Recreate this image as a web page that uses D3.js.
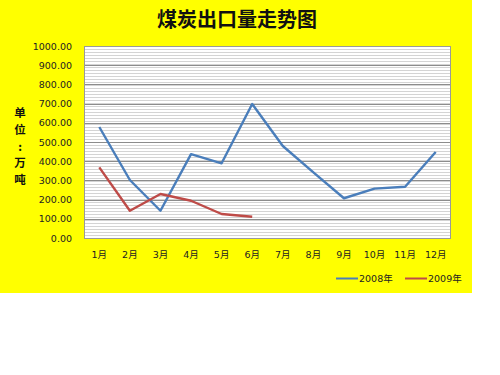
<!DOCTYPE html>
<html><head><meta charset="utf-8">
<script src="https://cdn.jsdelivr.net/npm/d3@7/dist/d3.min.js"></script>
<style>body{margin:0;background:#fff}svg{display:block}</style>
</head><body>
<svg id="c" width="500" height="375"></svg>
<script>
const months = ["1月","2月","3月","4月","5月","6月","7月","8月","9月","10月","11月","12月"];
const values2008 = [578, 302, 142, 437, 389, 698, 479, 342, 207, 257, 267, 448];
const values2009 = [368, 142, 229, 194, 125, 111];
const seriesNames = ["2008年","2009年"];
const yTicks = [0,100,200,300,400,500,600,700,800,900,1000];
const colors = ["#4A7EBB","#BE4B48"];

const svg = d3.select("#c");
svg.append("rect").attr("x",0).attr("y",0).attr("width",472).attr("height",293).attr("fill","#ffff00");

const L=84,R=451,T=46,B=238;
const x = d3.scaleBand().domain(months).range([L,R]);
const y = d3.scaleLinear().domain([0,1000]).range([B,T]);

const defs = svg.append("defs");
const pat = defs.append("pattern").attr("id","stripes").attr("patternUnits","userSpaceOnUse")
  .attr("width",4).attr("height",3);
pat.append("rect").attr("width",4).attr("height",3).attr("fill","#ffffff");
pat.append("rect").attr("y",1).attr("width",4).attr("height",1).attr("fill","#d4d4d4");

svg.append("rect").attr("x",L).attr("y",T).attr("width",R-L).attr("height",B-T).attr("fill","url(#stripes)");

// major gridlines
svg.append("g").selectAll("line").data(yTicks).join("line")
  .attr("x1",L).attr("x2",R).attr("y1",d=>Math.round(y(d))+0.5).attr("y2",d=>Math.round(y(d))+0.5)
  .attr("stroke","#8c8c8c").attr("stroke-width",1);

// plot border
svg.append("rect").attr("x",L+0.5).attr("y",T+0.5).attr("width",R-L-1).attr("height",B-T)
  .attr("fill","none").attr("stroke","#9a9a9a");

// y axis
const yAxis = d3.axisLeft(y).tickValues(yTicks).tickFormat(d=>d3.format(".2f")(d)).tickSize(0).tickPadding(12);
const gy = svg.append("g").attr("transform",`translate(${L},0)`).call(yAxis);
gy.select(".domain").remove();
gy.selectAll("text").attr("font-family","'DejaVu Sans', sans-serif").attr("font-size",9.5).attr("fill","#222");

// x axis
const xAxis = d3.axisBottom(x).tickSize(0).tickPadding(13);
const gx = svg.append("g").attr("transform",`translate(0,${B})`).call(xAxis);
gx.select(".domain").remove();
gx.selectAll("text").attr("font-family","'DejaVu Sans','Noto Sans CJK SC', sans-serif").attr("font-size",9.5).attr("fill","#222");

// lines
const line = d3.line().x((d,i)=>x(months[i])+x.bandwidth()/2).y(d=>y(d));
[values2008, values2009].forEach((vals,i)=>{
  svg.append("path").datum(vals).attr("d",line).attr("fill","none")
    .attr("stroke",colors[i]).attr("stroke-width",2.4).attr("stroke-linejoin","round");
});

// title
svg.append("text").attr("x",237).attr("y",27).attr("text-anchor","middle")
  .attr("font-family","'Noto Sans CJK SC', sans-serif").attr("font-size",20).attr("font-weight","bold")
  .attr("fill","#111").text("煤炭出口量走势图");

// y title (vertical stacked)
const yTitle = ["单","位",":","万","吨"];
const tyPos = [113,130,147,163,180];
yTitle.forEach((c,i)=>{
  svg.append("text").attr("x",20).attr("y",tyPos[i]+4)
    .attr("font-family","'Noto Sans CJK SC', sans-serif").attr("font-size",11.5)
    .attr("font-weight","bold").attr("fill","#111").attr("text-anchor","middle").text(c);
});

// legend
const leg = [{x:336},{x:405}];
seriesNames.forEach((n,i)=>{
  svg.append("line").attr("x1",leg[i].x).attr("x2",leg[i].x+22).attr("y1",278.5).attr("y2",278.5)
    .attr("stroke",colors[i]).attr("stroke-width",2);
  svg.append("text").attr("x",leg[i].x+23).attr("y",282).attr("font-family","'DejaVu Sans','Noto Sans CJK SC', sans-serif")
    .attr("font-size",9.5).attr("fill","#222").text(n);
});
</script>
</body></html>
